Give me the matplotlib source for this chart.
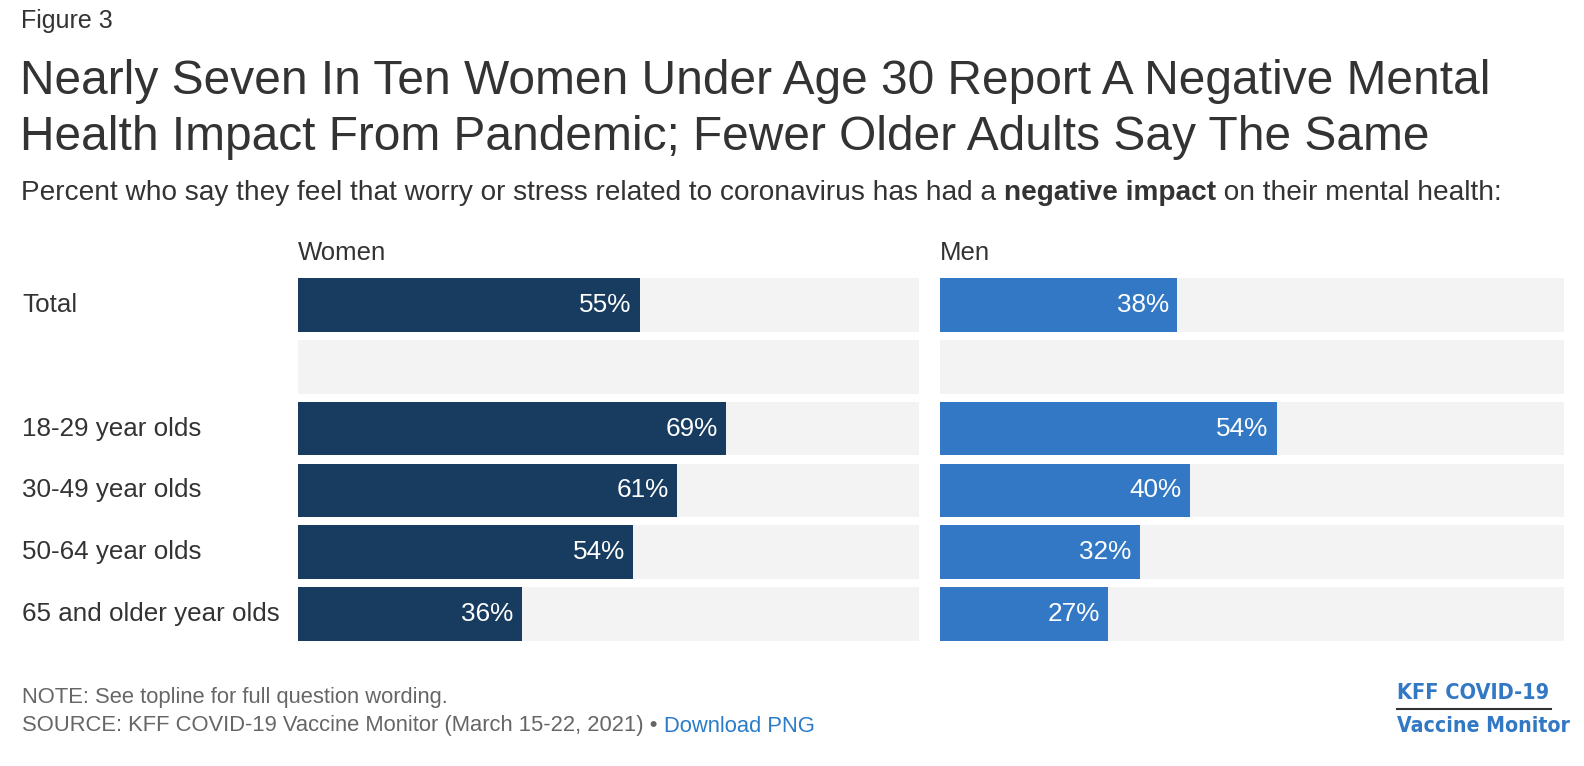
import matplotlib
matplotlib.use("Agg")
import matplotlib.pyplot as plt
import matplotlib.transforms as mtransforms

categories = ["Total", "", "18-29 year olds", "30-49 year olds", "50-64 year olds", "65 and older year olds"]
women = [55, None, 69, 61, 54, 36]
men = [38, None, 54, 40, 32, 27]
panel_titles = ["Women", "Men"]

W, H = 1584, 766
plt.rcParams['font.family'] = ['Liberation Sans', 'DejaVu Sans']
fig = plt.figure(figsize=(W / 100, H / 100), dpi=100)

BG = "#f3f3f3"
DARK = "#333333"
GRAY = "#666666"
colors = ["#183c5f", "#3278c4"]


def fx(px):
    return px / W


def fy(py):
    return 1 - py / H


# panels (pixel coords from top-left)
top, bottom = 278, 641
panels = [(298, 919), (940, 1564)]
for (x0, x1), vals, col, ttl in zip(panels, [women, men], colors, panel_titles):
    ax = fig.add_axes([fx(x0), fy(bottom), fx(x1 - x0), (bottom - top) / H])
    ys = range(len(categories))
    ax.barh(ys, [100] * len(categories), height=0.87, color=BG, linewidth=0)
    for y, v in zip(ys, vals):
        if v is None:
            continue
        ax.barh(y, v, height=0.87, color=col, linewidth=0)
        ax.annotate(f"{v}%", (v, y), xytext=(-6, 0), textcoords="offset points",
                    ha="right", va="center", color="white", fontsize=18.8)
    ax.set_xlim(0, 100)
    ax.set_ylim(len(categories) - 1 + 0.435, -0.435)
    ax.axis("off")
    fig.text(fx(x0), fy(253), ttl, fontsize=18.5, color=DARK, va="center", ha="left")
    if x0 == 298:
        tr = mtransforms.blended_transform_factory(fig.transFigure, ax.transData)
        for y, c in zip(ys, categories):
            ax.text(fx(22), y, c, transform=tr, fontsize=18.7, color=DARK, va="center", ha="left")

# header
fig.text(fx(21), fy(21), "Figure 3", fontsize=18, color=DARK, va="center")
fig.text(fx(20), fy(81), "Nearly Seven In Ten Women Under Age 30 Report A Negative Mental",
         fontsize=34.5, color=DARK, va="center")
fig.text(fx(20), fy(138), "Health Impact From Pandemic; Fewer Older Adults Say The Same",
         fontsize=34.5, color=DARK, va="center")

fig.canvas.draw()
renderer = fig.canvas.get_renderer()


def run_text(x, y, parts, size):
    for s, weight, color in parts:
        t = fig.text(x, y, s, fontsize=size, fontweight=weight, color=color, va="center", ha="left")
        bb = t.get_window_extent(renderer)
        x += bb.width / W


run_text(fx(21), fy(193), [
    ("Percent who say they feel that worry or stress related to coronavirus has had a ", "normal", DARK),
    ("negative impact", "bold", DARK),
    (" on their mental health:", "normal", DARK),
], 20.15)

fig.text(fx(22), fy(697), "NOTE: See topline for full question wording.", fontsize=15.8, color=GRAY, va="center")
run_text(fx(22), fy(726), [
    ("SOURCE: KFF COVID-19 Vaccine Monitor (March 15-22, 2021) \u2022 ", "normal", GRAY),
    ("Download PNG", "normal", "#2b7bc9"),
], 15.8)

# logo
logo_blue = "#3278c4"
fig.text(fx(1397), fy(693), "KFF COVID-19", fontsize=15.6, fontweight="bold", color=logo_blue,
         va="center", ha="left", family="DejaVu Sans", fontstretch="condensed")
fig.text(fx(1397), fy(726), "Vaccine Monitor", fontsize=15.2, fontweight="bold", color=logo_blue,
         va="center", ha="left", family="DejaVu Sans", fontstretch="condensed")
fig.add_artist(plt.Line2D([fx(1397), fx(1551)], [fy(709), fy(709)], color="#333333", lw=1.5))

fig.savefig("out.png", dpi=100, facecolor="white")
